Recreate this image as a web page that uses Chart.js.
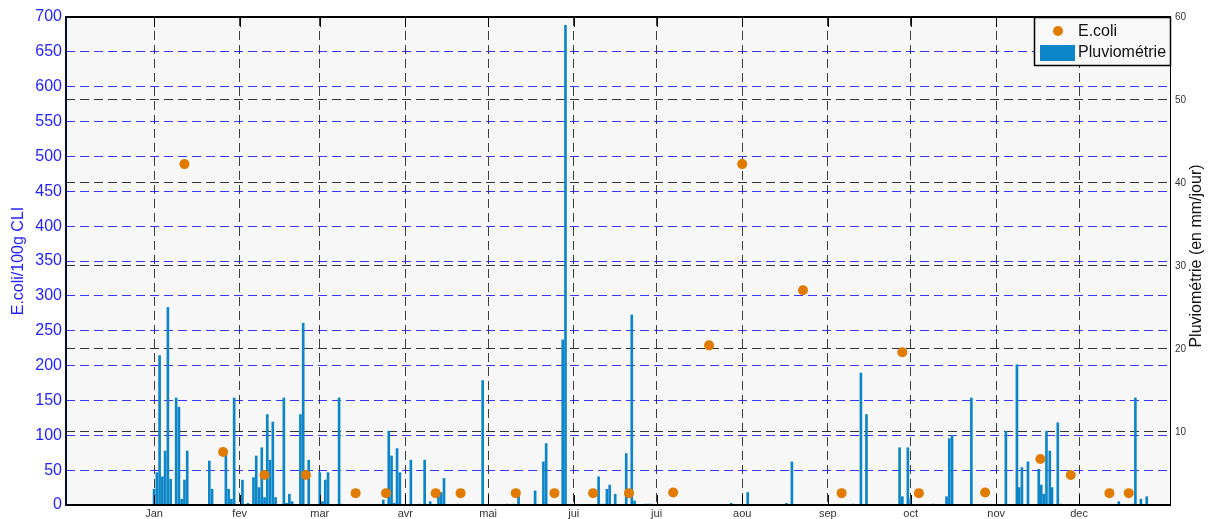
<!DOCTYPE html>
<html><head><meta charset="utf-8">
<script src="https://cdn.jsdelivr.net/npm/chart.js@4.4.0/dist/chart.umd.min.js"></script>
<style>html,body{margin:0;padding:0;background:#fff;} canvas{display:block;}</style>
</head><body>
<canvas id="c" width="1211" height="519"></canvas>
<script>
// x axis: day of year (leap year), 0 = 1 Jan
const monthStarts = [0,31,60,91,121,152,182,213,244,274,305,335];
const monthLabels = ['Jan','fev','mar','avr','mai','jui','jui','aou','sep','oct','nov','dec'];

// E.coli (left axis)
const ecoliDays   = [11,25,40,55,73,84,102,111,131,145,159,172,188,201,213,235,249,271,277,301,321,332,346,353];
const ecoliValues = [489,76,43,43,17,17,17,17,17,17,17,17,18,229,489,308,17,219,17,18,66,43,17,17];

// Pluviométrie (right axis, mm/jour)
const rainDays = [0,1,2,3,4,5,6,8,9,10,11,12,
  20,21,26,27,28,29,32,34,36,37,38,39,40,41,42,43,44,47,48,49,50,53,54,56,60,61,62,63,67,68,
  83,85,86,87,88,89,93,96,98,100,103,104,105,110,119,128,130,132,138,141,142,148,149,
  161,162,163,164,165,167,171,173,174,178,179,180,
  209,215,229,231,
  253,256,258,270,271,273,274,282,287,288,289,296,
  308.5,312.5,313.3,314.3,316.5,320.4,321.3,322.2,323.2,324.4,325.2,327.3,328.4,
  349.4,354.3,355.4,357.4,359.5];
const rainValues = [3.1,5.1,19.2,4.6,7.7,25.0,4.3,14.1,13.0,1.9,4.2,7.7,
  6.5,3.1,7.2,3.1,1.9,14.1,4.2,1.4,4.5,7.1,3.3,8.1,2.1,12.1,6.6,11.2,2.1,14.1,1.4,2.5,1.6,12.1,23.1,6.6,5.1,1.6,4.2,5.1,14.1,1.3,
  1.8,10.1,7.1,1.4,8.0,5.1,6.6,1.3,6.6,1.6,2.3,2.7,4.4,1.3,16.2,1.3,1.3,2.7,2.9,6.4,8.6,21.1,59.0,
  4.6,1.3,1.3,3.1,3.6,2.5,7.4,24.1,1.7,1.3,1.3,1.3,
  1.4,2.7,1.4,6.4,
  1.3,17.1,12.1,8.1,2.2,8.1,1.9,1.3,2.2,9.2,9.6,14.1,
  10.1,18.1,3.3,5.7,6.4,5.5,3.6,2.5,10.1,7.7,3.3,11.1,1.3,
  1.6,1.3,14.1,1.9,2.2];

const leftMin = 0, leftMax = 700, leftStep = 50;
const rightMin = 1.2, rightMax = 60;
const rainTicks = [10,20,30,40,50,60];
const xMin = -31.9, xMax = 368.3;

const FONT = '"Liberation Sans", Arial, Helvetica, sans-serif';
Chart.defaults.font.family = FONT;

const decor = {
  id: 'decor',
  beforeDraw(chart) {
    const {ctx, chartArea: a} = chart;
    ctx.save();
    ctx.fillStyle = '#f7f7f7';
    ctx.fillRect(a.left, a.top, a.right - a.left, a.bottom - a.top);
    ctx.restore();
  },
  afterDraw(chart) {
    const {ctx, chartArea: a, scales} = chart;
    ctx.save();
    // tick marks inward
    ctx.strokeStyle = '#000'; ctx.lineWidth = 1;
    monthStarts.forEach(d => {
      const x = Math.round(scales.x.getPixelForValue(d)) + 0.5;
      ctx.beginPath();
      ctx.moveTo(x, a.bottom); ctx.lineTo(x, a.bottom - 10);
      ctx.moveTo(x, a.top); ctx.lineTo(x, a.top + 10);
      ctx.stroke();
    });
    // frame
    ctx.strokeStyle = '#000';
    ctx.lineWidth = 2;
    ctx.beginPath();
    ctx.moveTo(a.left, a.top); ctx.lineTo(a.right, a.top);
    ctx.moveTo(a.left, a.bottom); ctx.lineTo(a.right, a.bottom);
    ctx.stroke();
    ctx.strokeStyle = '#0a0a3a';
    ctx.beginPath(); ctx.moveTo(a.left, a.top - 1); ctx.lineTo(a.left, a.bottom + 1); ctx.stroke();
    ctx.strokeStyle = '#000'; ctx.lineWidth = 1;
    ctx.beginPath(); ctx.moveTo(a.right - 0.5, a.top); ctx.lineTo(a.right - 0.5, a.bottom); ctx.stroke();

    // axis titles
    ctx.font = '16px ' + FONT;
    ctx.textAlign = 'center'; ctx.textBaseline = 'middle';
    ctx.save();
    ctx.translate(19, 261); ctx.rotate(-Math.PI / 2);
    ctx.fillStyle = '#2222ff';
    ctx.fillText('E.coli/100g CLI', 0, 0);
    ctx.restore();
    ctx.save();
    ctx.translate(1197, 256); ctx.rotate(-Math.PI / 2);
    ctx.fillStyle = '#111';
    ctx.fillText('Pluviométrie (en mm/jour)', 0, 0);
    ctx.restore();

    // legend
    const lx = 1034, ly = a.top, lw = a.right - 1034, lh = 48;
    ctx.fillStyle = '#f8f8f8';
    ctx.fillRect(lx, ly, lw, lh);
    ctx.strokeStyle = '#000'; ctx.lineWidth = 1.5;
    ctx.strokeRect(lx + 0.5, ly + 0.5, lw - 1, lh);
    ctx.fillStyle = '#e07b00';
    ctx.beginPath(); ctx.arc(1058, 31, 5, 0, Math.PI * 2); ctx.fill();
    ctx.fillStyle = '#0c86c8';
    ctx.fillRect(1040, 45, 35, 16);
    ctx.fillStyle = '#111';
    ctx.textAlign = 'left'; ctx.textBaseline = 'middle';
    ctx.font = '16px ' + FONT;
    ctx.fillText('E.coli', 1078, 32);
    ctx.fillText('Pluviométrie', 1078, 53);
    ctx.restore();
  }
};

new Chart(document.getElementById('c'), {
  type: 'scatter',
  data: {
    datasets: [
      {
        type: 'scatter', label: 'E.coli',
        data: ecoliDays.map((d, i) => ({x: d, y: ecoliValues[i]})),
        yAxisID: 'y', backgroundColor: '#e07b00', borderWidth: 0,
        pointRadius: 5, pointHoverRadius: 5, order: 0
      },
      {
        type: 'bar', label: 'Pluviométrie',
        data: rainDays.map((d, i) => ({x: d, y: rainValues[i]})),
        yAxisID: 'y2', backgroundColor: '#0c86c8', borderWidth: 0,
        barThickness: 2, clip: 0, order: 1
      }
    ]
  },
  options: {
    responsive: false, animation: false, devicePixelRatio: 1,
    layout: {padding: {top: 17, left: 0, right: 0, bottom: 0}},
    plugins: {legend: {display: false}, tooltip: {enabled: false}},
    scales: {
      x: {
        type: 'linear', position: 'bottom', min: xMin, max: xMax, offset: false,
        afterBuildTicks: s => { s.ticks = monthStarts.map(v => ({value: v})); },
        afterFit: s => { s.height = 14; },
        ticks: {
          callback: v => monthLabels[monthStarts.indexOf(v)],
          color: '#333', font: {size: 11}, padding: 2, maxRotation: 0, autoSkip: false
        },
        grid: {color: 'rgba(0,0,0,0.75)', drawTicks: false, lineWidth: 1, offset: false},
        border: {display: false, dash: [9, 5]}
      },
      y: {
        position: 'left', min: leftMin, max: leftMax,
        afterFit: s => { s.width = 66; },
        ticks: {stepSize: leftStep, color: '#2222ff', font: {size: 16}, padding: 4},
        grid: {color: 'rgba(20,20,255,0.85)', drawTicks: false, lineWidth: 1},
        border: {display: false, dash: [9, 5]}
      },
      y2: {
        position: 'right', min: rightMin, max: rightMax,
        afterBuildTicks: s => { s.ticks = rainTicks.map(v => ({value: v})); },
        afterFit: s => { s.width = 40; },
        ticks: {color: '#333', font: {size: 10}, padding: 4},
        grid: {color: 'rgba(0,0,0,0.8)', drawTicks: false, lineWidth: 1},
        border: {display: false, dash: [9, 5]}
      }
    }
  },
  plugins: [decor]
});
</script>
</body></html>
